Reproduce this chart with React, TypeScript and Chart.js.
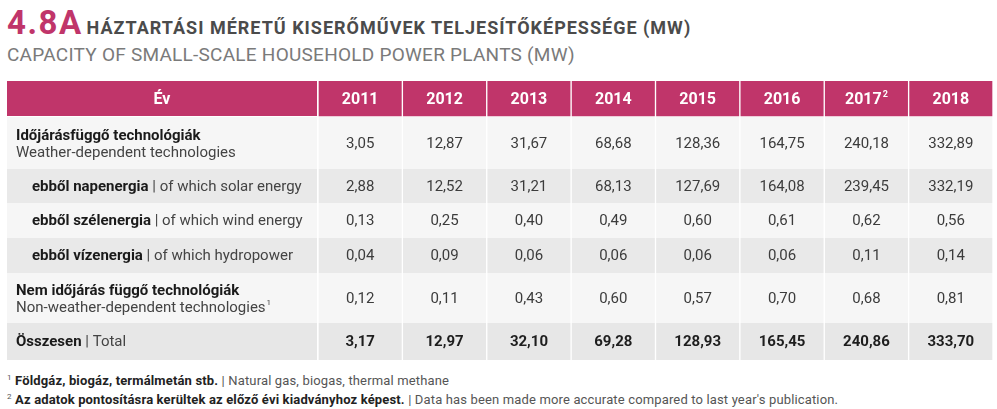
import React, { useEffect, useRef } from "react";
import { Chart, registerables } from "chart.js";

Chart.register(...registerables);

// ---------- data ----------
const years = ["2011", "2012", "2013", "2014", "2015", "2016", "2017", "2018"];
const yearNotes = ["", "", "", "", "", "", "2", ""];
const weatherDependent = [3.05, 12.87, 31.67, 68.68, 128.36, 164.75, 240.18, 332.89];
const solar = [2.88, 12.52, 31.21, 68.13, 127.69, 164.08, 239.45, 332.19];
const wind = [0.13, 0.25, 0.4, 0.49, 0.6, 0.61, 0.62, 0.56];
const hydro = [0.04, 0.09, 0.06, 0.06, 0.06, 0.06, 0.11, 0.14];
const nonWeather = [0.12, 0.11, 0.43, 0.6, 0.57, 0.7, 0.68, 0.81];
const total = [3.17, 12.97, 32.1, 69.28, 128.93, 165.45, 240.86, 333.7];

const headerLabel = "Év";
const rowLabelsHu = [
  "Időjárásfüggő technológiák",
  "ebből napenergia",
  "ebből szélenergia",
  "ebből vízenergia",
  "Nem időjárás függő technológiák",
  "Összesen",
];
const rowLabelsEn = [
  "Weather-dependent technologies",
  "of which solar energy",
  "of which wind energy",
  "of which hydropower",
  "Non-weather-dependent technologies",
  "Total",
];
const rowLabelNotes = ["", "", "", "", "1", ""];
const rowSeries = [weatherDependent, solar, wind, hydro, nonWeather, total];

// ---------- layout / style ----------
const rowHeights = [36, 52, 34, 35, 35, 50, 37]; // header + 6 rows
const rowTwoLine = [true, false, false, false, true, false];
const rowIndent = [false, true, true, true, false, false];
const rowBoldValues = [false, false, false, false, false, true];
const rowColors = ["#f6f6f6", "#e9e9e9", "#f6f6f6", "#e9e9e9", "#f6f6f6", "#e7e7e7"];
const PINK = "#c0356a";
const LABEL_COL = 311;
const FONT = "Roboto";

const fmt = (v: number) => v.toFixed(2).replace(".", ",");

function rowSpan(i: number): [number, number] {
  let s = 0;
  for (let k = 0; k < i; k++) s += rowHeights[k];
  return [s, s + rowHeights[i]];
}

const TableChart: React.FC = () => {
  const ref = useRef<HTMLCanvasElement>(null);
  useEffect(() => {
    if (!ref.current) return;
    const totalH = rowHeights.reduce((a, b) => a + b, 0);

    const datasets: any[] = [];
    const h = rowSpan(0);
    datasets.push({
      label: headerLabel,
      data: years.map(() => [h[0], h[1]]),
      backgroundColor: PINK,
      borderColor: "#ffffff",
      borderWidth: { left: 1, right: 1, top: 0, bottom: 1 },
      borderSkipped: false,
    });
    rowSeries.forEach((_, r) => {
      const sp = rowSpan(r + 1);
      datasets.push({
        label: rowLabelsEn[r],
        data: years.map(() => [sp[0], sp[1]]),
        backgroundColor: rowColors[r],
        borderColor: "#ffffff",
        borderWidth: { left: 1, right: 1, top: 0, bottom: 0 },
        borderSkipped: false,
      });
    });

    const tablePlugin = {
      id: "tableText",
      beforeDatasetsDraw(chart: any) {
        const ctx = chart.ctx;
        const y = chart.scales.y;
        const left = 0;
        const right = chart.chartArea.left - 1;
        for (let i = 0; i < rowHeights.length; i++) {
          const [a, b] = rowSpan(i);
          const top = y.getPixelForValue(a);
          const bot = y.getPixelForValue(b);
          ctx.fillStyle = i === 0 ? PINK : rowColors[i - 1];
          ctx.fillRect(left, top, right - left, bot - top - (i === 0 ? 1 : 0));
        }
      },
      afterDatasetsDraw(chart: any) {
        const ctx = chart.ctx;
        const x = chart.scales.x;
        const y = chart.scales.y;
        ctx.save();
        ctx.textBaseline = "middle";
        const [h0, h1] = rowSpan(0);
        const hc = (y.getPixelForValue(h0) + y.getPixelForValue(h1)) / 2 + 1;
        ctx.fillStyle = "#ffffff";
        ctx.textAlign = "center";
        ctx.font = `bold 16px ${FONT}`;
        ctx.fillText(headerLabel, (chart.chartArea.left - 1) / 2, hc);
        years.forEach((yr, i) => {
          const cx = x.getPixelForValue(i);
          ctx.font = `bold 16px ${FONT}`;
          if (yearNotes[i]) {
            const w = ctx.measureText(yr).width;
            ctx.font = `bold 9px ${FONT}`;
            const nw = ctx.measureText(yearNotes[i]).width;
            const start = cx - (w + nw + 1) / 2;
            ctx.textAlign = "left";
            ctx.font = `bold 16px ${FONT}`;
            ctx.fillText(yr, start, hc);
            ctx.font = `bold 9px ${FONT}`;
            ctx.fillText(yearNotes[i], start + w + 1, hc - 5);
            ctx.textAlign = "center";
          } else {
            ctx.fillText(yr, cx, hc);
          }
        });
        rowSeries.forEach((series, r) => {
          const [a, b] = rowSpan(r + 1);
          const cy = (y.getPixelForValue(a) + y.getPixelForValue(b)) / 2 + 1;
          ctx.textAlign = "center";
          ctx.fillStyle = rowBoldValues[r] ? "#1e1e1e" : "#3c3c3c";
          ctx.font = `${rowBoldValues[r] ? "bold " : ""}15px ${FONT}`;
          series.forEach((v, i) => {
            ctx.fillText(fmt(v), x.getPixelForValue(i), cy);
          });
          ctx.textAlign = "left";
          const lx = rowIndent[r] ? 25 : 9;
          if (rowTwoLine[r]) {
            ctx.font = `bold 15px ${FONT}`;
            ctx.fillStyle = "#1a1a1a";
            ctx.fillText(rowLabelsHu[r], lx, cy - 7.5);
            ctx.font = `15px ${FONT}`;
            ctx.fillStyle = "#444444";
            ctx.fillText(rowLabelsEn[r], lx, cy + 9);
            if (rowLabelNotes[r]) {
              const w = ctx.measureText(rowLabelsEn[r]).width;
              ctx.font = `8px ${FONT}`;
              ctx.fillText(rowLabelNotes[r], lx + w + 1, cy + 4);
            }
          } else {
            ctx.font = `bold 15px ${FONT}`;
            ctx.fillStyle = "#1a1a1a";
            ctx.fillText(rowLabelsHu[r], lx, cy);
            const w = ctx.measureText(rowLabelsHu[r]).width;
            ctx.font = `15px ${FONT}`;
            ctx.fillStyle = "#444444";
            ctx.fillText(" | " + rowLabelsEn[r], lx + w, cy);
          }
        });
        ctx.restore();
      },
    };

    const chart = new Chart(ref.current, {
      type: "bar",
      data: { labels: years, datasets },
      options: {
        responsive: false,
        animation: false,
        layout: { padding: { left: LABEL_COL, right: 0, top: 0, bottom: 0 } },
        datasets: { bar: { grouped: false, categoryPercentage: 1, barPercentage: 1 } } as any,
        plugins: { legend: { display: false }, tooltip: { enabled: false }, title: { display: false } },
        scales: {
          x: { type: "category", display: false, offset: true },
          y: { type: "linear", display: false, reverse: true, min: 0, max: totalH },
        },
      },
      plugins: [tablePlugin],
    });
    return () => chart.destroy();
  }, []);
  return <canvas ref={ref} width={986} height={279} style={{ display: "block" }} />;
};

export default function App() {
  const font = `${FONT}, "DejaVu Sans", sans-serif`;
  return (
    <div style={{ position: "absolute", left: 0, top: 0, width: 997, height: 409, background: "#fff", fontFamily: font, overflow: "hidden" }}>
      <div style={{ position: "absolute", left: 7, top: 3, whiteSpace: "nowrap", lineHeight: "40px" }}>
        <span style={{ fontSize: 33, fontWeight: 700, color: PINK, letterSpacing: 1.5 }}>4.8A</span>
        <span style={{ fontSize: 18, fontWeight: 700, color: "#4b4b4b", marginLeft: 4, letterSpacing: 1.0 }}>
          HÁZTARTÁSI MÉRETŰ KISERŐMŰVEK TELJESÍTŐKÉPESSÉGE (MW)
        </span>
      </div>
      <div style={{ position: "absolute", left: 7, top: 43, whiteSpace: "nowrap", fontSize: 19, color: "#7a7a7a", lineHeight: "24px", letterSpacing: 0.25 }}>
        CAPACITY OF SMALL-SCALE HOUSEHOLD POWER PLANTS (MW)
      </div>
      <div style={{ position: "absolute", left: 7, top: 81 }}>
        <TableChart />
      </div>
      <div style={{ position: "absolute", left: 7, top: 370, fontSize: 13, color: "#555", lineHeight: "16px", whiteSpace: "nowrap", letterSpacing: 0.15 }}>
        <div>
          <sup style={{ fontSize: 8 }}>1</sup> <b style={{ color: "#222" }}>Földgáz, biogáz, termálmetán stb.</b> | Natural gas, biogas, thermal methane
        </div>
        <div>
          <sup style={{ fontSize: 8 }}>2</sup> <b style={{ color: "#222" }}>Az adatok pontosításra kerültek az előző évi kiadványhoz képest.</b> | Data has been made more accurate compared to last year's publication.
        </div>
      </div>
    </div>
  );
}
